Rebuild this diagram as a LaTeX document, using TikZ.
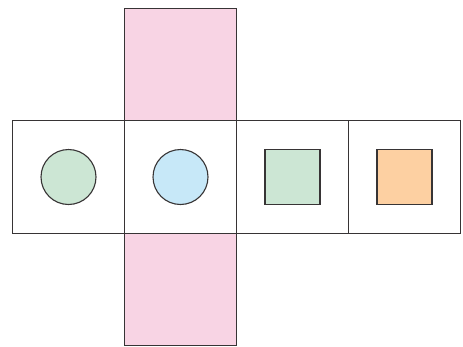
\documentclass[tikz,border=0pt]{standalone}
\begin{document}
\begin{tikzpicture}[x=1pt,y=-1pt,
  face/.style={draw=edge,line width=1.1pt,minimum width=112pt,minimum height=112.5pt,inner sep=0pt,outer sep=0pt},
  disc/.style={circle,draw=edge,line width=1.1pt,minimum size=55pt,inner sep=0pt},
  tile/.style={rectangle,draw=edge,line width=1.1pt,minimum size=55pt,inner sep=0pt}]
\definecolor{edge}{RGB}{55,52,53}
\definecolor{pinkf}{RGB}{248,212,228}
\definecolor{greenf}{RGB}{204,230,212}
\definecolor{bluef}{RGB}{199,232,248}
\definecolor{orangef}{RGB}{253,208,162}
\useasboundingbox (0,0) rectangle (463,346);
\node[face,fill=pinkf] (top) at (180.5,65) {};
\node[face,fill=pinkf] (bottom) at (180.5,289) {};
\node[face,fill=white] (f1) at (68.5,177) {};
\node[face,fill=white] (f2) at (180.5,177) {};
\node[face,fill=white] (f3) at (292.5,177) {};
\node[face,fill=white] (f4) at (404.5,177) {};
\node[disc,fill=greenf] (c1) at (f1.center) {};
\node[disc,fill=bluef] (c2) at (f2.center) {};
\node[tile,fill=greenf] (s3) at (f3.center) {};
\node[tile,fill=orangef] (s4) at (f4.center) {};
\end{tikzpicture}
\end{document}
